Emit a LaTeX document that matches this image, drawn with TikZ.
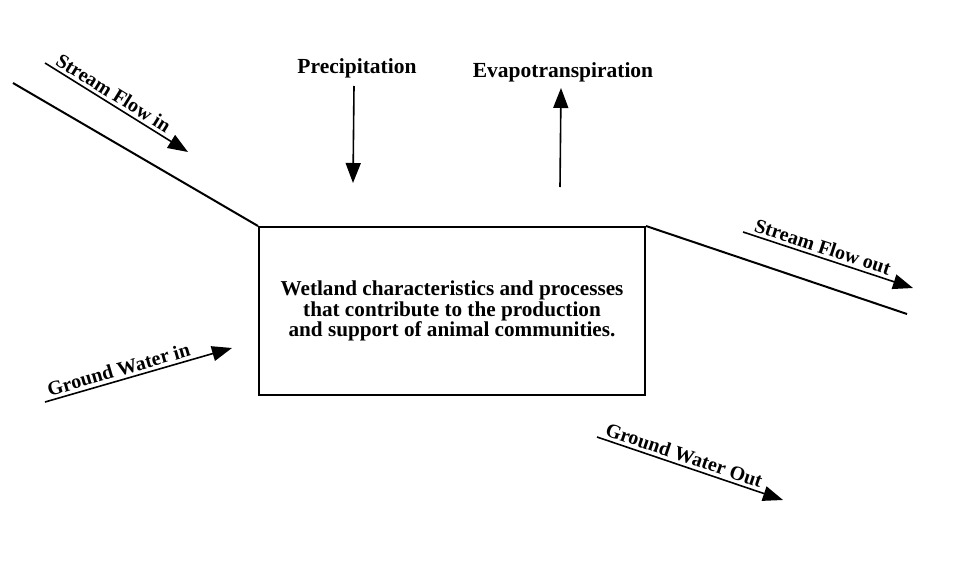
\documentclass[tikz,border=0pt]{standalone}
\usepackage{fontspec}
\setmainfont{Liberation Serif}
\usetikzlibrary{arrows.meta}
\begin{document}
\begin{tikzpicture}[x=1pt,y=-1pt,
  lbl/.style={font=\bfseries\fontsize{21.5}{22}\selectfont, inner sep=2pt},
  slbl/.style={font=\bfseries\fontsize{20}{22}\selectfont, inner sep=3pt, sloped, above},
  flow/.style={line width=1.6pt, -{Triangle[length=20pt,width=15pt]}},
  bank/.style={line width=2pt},
  wbox/.style={draw, line width=2pt, minimum width=386pt, minimum height=168pt, align=center,
    font=\bfseries\fontsize{21.2}{20.8}\selectfont}]
\useasboundingbox (0,0) rectangle (959,573);
% box
\node[wbox] (box) at (452,311) {Wetland characteristics and processes\\that contribute to the production\\and support of animal communities.};
% stream banks
\coordinate (sin) at (13,83);
\coordinate (sout) at (907,314);
\draw[bank] (sin) -- (box.north west);
\draw[bank] (box.north east) -- (sout);
% stream flow in
\coordinate (sfa) at (45,63);
\coordinate (sfb) at (188,152);
\draw[flow] (sfa) -- node[slbl, pos=0.44] (sfl) {Stream Flow in} (sfb);
% stream flow out
\coordinate (soa) at (743,232);
\coordinate (sob) at (913,288);
\draw[flow] (soa) -- node[slbl, pos=0.45] (sol) {Stream Flow out} (sob);
% ground water in
\coordinate (gia) at (45,402);
\coordinate (gib) at (232,348);
\draw[flow] (gia) -- node[slbl, pos=0.41] (gil) {Ground Water in} (gib);
% ground water out
\coordinate (goa) at (597,437);
\coordinate (gob) at (783,500);
\draw[flow] (goa) -- node[slbl, pos=0.45] (gol) {Ground Water Out} (gob);
% precipitation
\node[lbl] (prec) at (357,68) {Precipitation};
\coordinate (pt) at (353,183);
\draw[flow] (354,86) -- (pt);
% evapotranspiration
\node[lbl] (evap) at (563,72) {Evapotranspiration};
\coordinate (eb) at (560,187);
\draw[flow] (eb) -- (561,88);
\end{tikzpicture}
\end{document}
